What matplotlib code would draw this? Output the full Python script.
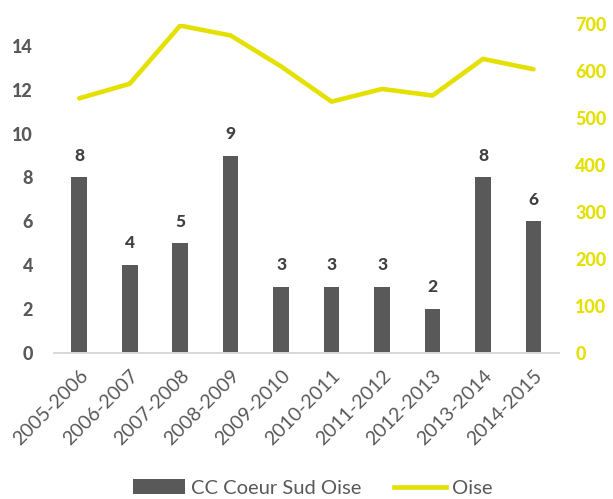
import matplotlib.pyplot as plt
from matplotlib.patches import Patch
from matplotlib.lines import Line2D
import numpy as np

plt.rcParams['font.family'] = ['Lato', 'DejaVu Sans']

years = ["2005-2006", "2006-2007", "2007-2008", "2008-2009", "2009-2010",
         "2010-2011", "2011-2012", "2012-2013", "2013-2014", "2014-2015"]
cc_coeur = [8, 4, 5, 9, 3, 3, 3, 2, 8, 6]
oise = [542, 573, 697, 676, 610, 535, 562, 548, 626, 604]
left_ticks = list(range(0, 15, 2))
right_ticks = list(range(0, 701, 100))

bar_color = '#595959'
line_color = '#e4e000'
x = np.arange(len(years))

fig = plt.figure(figsize=(6.13, 4.99), dpi=100)
ax = fig.add_axes([54 / 613, 146.3 / 499, 504.7 / 613, 328.5 / 499])
ax2 = ax.twinx()

ax.bar(x, cc_coeur, width=0.31, color=bar_color, zorder=2)
for xi, v in zip(x, cc_coeur):
    ax.text(xi, v + 0.76, str(v), ha='center', va='baseline', fontsize=12.5,
            fontweight='black', color='#404040')

ax2.plot(x, oise, color=line_color, linewidth=3.3, solid_capstyle='round',
         solid_joinstyle='round')

ax.set_xlim(-0.5, 9.5)
ax.set_ylim(0, 15)
ax2.set_ylim(0, 700)

for a in (ax, ax2):
    for s in ('top', 'right', 'left'):
        a.spines[s].set_visible(False)
    a.spines['bottom'].set_color('#d9d9d9')
    a.spines['bottom'].set_linewidth(1.2)

ax.set_xticks(x)
ax.set_xticklabels(years, rotation=45, ha='right', rotation_mode='anchor',
                   fontsize=14, color='#595959')
ax.tick_params(axis='x', length=0, pad=10)

ax.set_yticks(left_ticks)
ax.set_yticklabels([str(t) for t in left_ticks], fontsize=13, fontweight='black',
                   color='#595959')
ax.tick_params(axis='y', length=0, pad=15)
ax2.set_yticks(right_ticks)
ax2.set_yticklabels([str(t) for t in right_ticks], fontsize=13, fontweight='black',
                    color=line_color)
ax2.tick_params(axis='y', length=0, pad=12)

handles = [Patch(facecolor=bar_color, label='CC Coeur Sud Oise'),
           Line2D([0], [0], color=line_color, linewidth=3.3, label='Oise')]
fig.legend(handles=handles, loc='center', bbox_to_anchor=(312.5 / 613, 1 - 488 / 499),
           ncol=2, frameon=False, fontsize=14.5, handlelength=2.6, handleheight=0.7,
           columnspacing=1.6, handletextpad=0.28, labelcolor='#595959',
           borderpad=0)

fig.savefig('out.png', dpi=100)
